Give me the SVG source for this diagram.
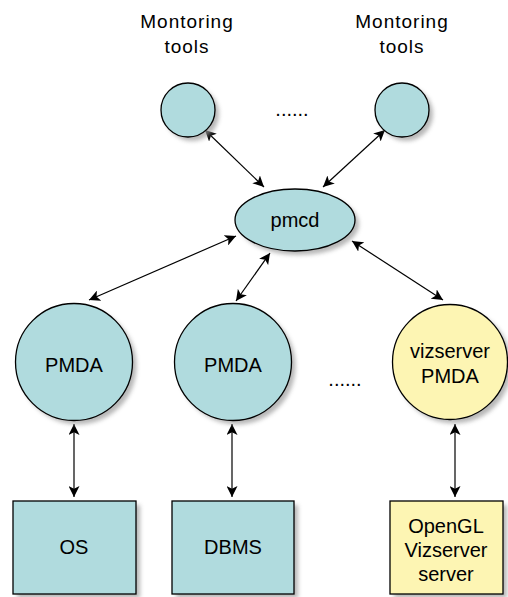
<svg xmlns="http://www.w3.org/2000/svg" width="508" height="597" viewBox="0 0 508 597">
<defs>
<filter id="sh" x="-20%" y="-20%" width="150%" height="150%">
<feGaussianBlur stdDeviation="2"/>
</filter>
<marker id="ah" viewBox="0 0 10 10" refX="10" refY="5" markerWidth="11" markerHeight="11" markerUnits="userSpaceOnUse" orient="auto-start-reverse">
<path d="M0,0 L10,5 L0,10 L2.5,5 z" fill="#000"/>
</marker>
</defs>
<style>
.t{fill:#b0dbde;stroke:#000;stroke-width:1.3}
.y{fill:#fdf5b3;stroke:#000;stroke-width:1.3}
.s{fill:#999;filter:url(#sh);opacity:0.7}
text{font-family:"Liberation Sans",Arial,sans-serif;font-size:20px;fill:#000;text-anchor:middle}
.lb{font-size:19px;letter-spacing:1px}
.c{stroke:#000;stroke-width:1.2;fill:none;marker-start:url(#ah);marker-end:url(#ah)}
</style>
<rect width="508" height="597" fill="#fff"/>
<g id="labels">
<text class="lb" x="187" y="28">Montoring</text>
<text class="lb" x="187" y="53">tools</text>
<text class="lb" x="402" y="28">Montoring</text>
<text class="lb" x="402" y="53">tools</text>
<text x="292" y="116">......</text>
<text x="345" y="386">......</text>
</g>
<g id="connectors">
<line class="c" x1="205" y1="130" x2="264" y2="187"/>
<line class="c" x1="385" y1="130" x2="323" y2="187"/>
<line class="c" x1="236" y1="236" x2="89" y2="300"/>
<line class="c" x1="270" y1="253" x2="236" y2="301"/>
<line class="c" x1="352" y1="241" x2="443" y2="300"/>
<line class="c" x1="74" y1="424" x2="74" y2="497"/>
<line class="c" x1="232" y1="424" x2="232" y2="497"/>
<line class="c" x1="455" y1="424" x2="455" y2="497"/>
</g>
<g id="tool1">
<circle class="s" cx="192" cy="114" r="27"/>
<circle class="t" cx="188" cy="110" r="27"/>
</g>
<g id="tool2">
<circle class="s" cx="406" cy="114" r="27"/>
<circle class="t" cx="402" cy="110" r="27"/>
</g>
<g id="pmcd">
<ellipse class="s" cx="299" cy="224" rx="60" ry="31"/>
<ellipse class="t" cx="295" cy="220" rx="60" ry="31"/>
<text x="295" y="227">pmcd</text>
</g>
<g id="pmda1">
<circle class="s" cx="78" cy="366" r="58.5"/>
<circle class="t" cx="74" cy="362" r="58.5"/>
<text x="74" y="372">PMDA</text>
</g>
<g id="pmda2">
<circle class="s" cx="237" cy="366" r="58.5"/>
<circle class="t" cx="233" cy="362" r="58.5"/>
<text x="233" y="372">PMDA</text>
</g>
<g id="pmda3">
<circle class="s" cx="454" cy="366" r="57.5"/>
<circle class="y" cx="450" cy="362" r="57.5"/>
<text x="450" y="358">vizserver</text>
<text x="450" y="383">PMDA</text>
</g>
<g id="os">
<rect class="s" x="17" y="505" width="123" height="93"/>
<rect class="t" x="13" y="501" width="123" height="93"/>
<text x="74" y="554">OS</text>
</g>
<g id="dbms">
<rect class="s" x="176" y="505" width="122" height="93"/>
<rect class="t" x="172" y="501" width="122" height="93"/>
<text x="233" y="554">DBMS</text>
</g>
<g id="opengl">
<rect class="s" x="394" y="505" width="113" height="93"/>
<rect class="y" x="390" y="501" width="113" height="93"/>
<text x="446" y="533">OpenGL</text>
<text x="446" y="557">Vizserver</text>
<text x="446" y="581">server</text>
</g>
</svg>
